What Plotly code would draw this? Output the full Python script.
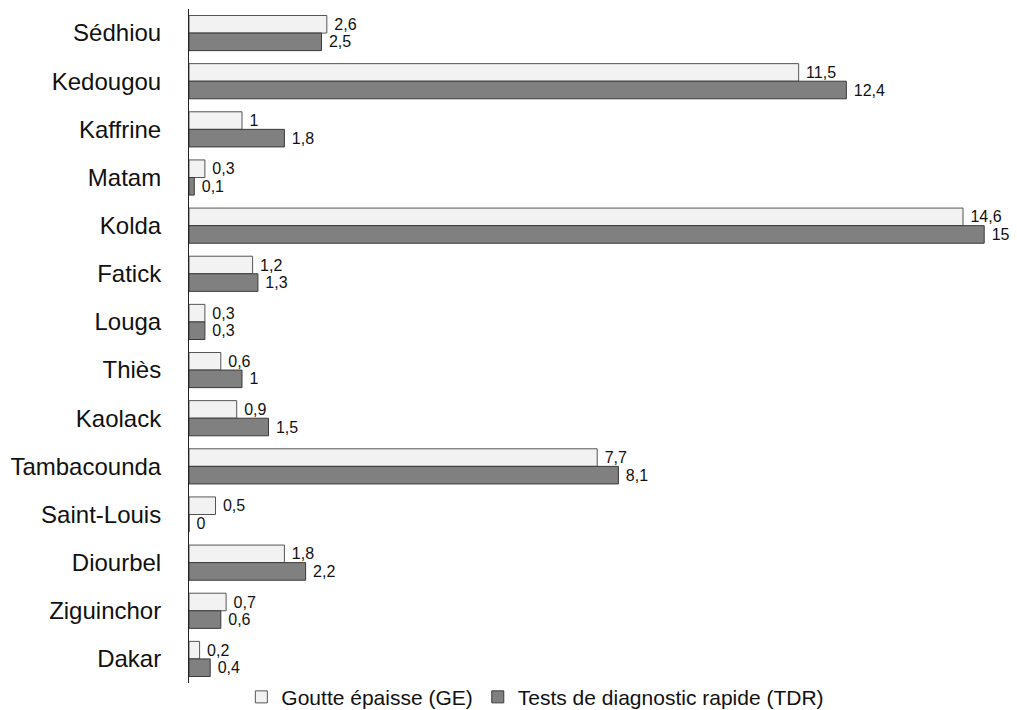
import plotly.graph_objects as go

regions = ["Sédhiou", "Kedougou", "Kaffrine", "Matam", "Kolda", "Fatick", "Louga",
           "Thiès", "Kaolack", "Tambacounda", "Saint-Louis", "Diourbel", "Ziguinchor", "Dakar"]
ge_values = [2.6, 11.5, 1, 0.3, 14.6, 1.2, 0.3, 0.6, 0.9, 7.7, 0.5, 1.8, 0.7, 0.2]
tdr_values = [2.5, 12.4, 1.8, 0.1, 15, 1.3, 0.3, 1, 1.5, 8.1, 0, 2.2, 0.6, 0.4]


def fr(v):
    # French decimal comma, with a small gap before the bar end
    return "\u00a0" + f"{v:g}".replace(".", ",")


FONT = "Liberation Sans, Arial, sans-serif"

fig = go.Figure()
fig.add_trace(go.Bar(
    y=regions, x=ge_values, orientation="h", name="Goutte épaisse (GE)",
    marker=dict(color="#f2f2f2", line=dict(color="#555555", width=1)),
    text=[fr(v) for v in ge_values], textposition="outside", constraintext="none",
    textfont=dict(family=FONT, size=16, color="#111111"), cliponaxis=False,
))
fig.add_trace(go.Bar(
    y=regions, x=tdr_values, orientation="h", name="Tests de diagnostic rapide (TDR)",
    marker=dict(color="#808080", line=dict(color="#3a3a3a", width=1)),
    text=[fr(v) for v in tdr_values], textposition="outside", constraintext="none",
    textfont=dict(family=FONT, size=16, color="#111111"), cliponaxis=False,
))

fig.update_layout(
    width=1017, height=710,
    margin=dict(l=189, r=10, t=9, b=27, autoexpand=False),
    paper_bgcolor="white", plot_bgcolor="white",
    barmode="group", bargap=0.27, bargroupgap=0,
    font=dict(family=FONT, color="#111111"),
    showlegend=True,
    legend=dict(orientation="h", x=0.064, xanchor="left",
                yref="container", y=0.018, yanchor="middle",
                font=dict(family=FONT, size=21), itemwidth=30, traceorder="normal",
                bgcolor="rgba(0,0,0,0)"),
    xaxis=dict(range=[0, 15.43], visible=False, showgrid=False, zeroline=False),
    yaxis=dict(autorange="reversed", showline=True, linecolor="#222222", linewidth=1,
               showgrid=False, ticks="", ticklabelstandoff=22,
               tickfont=dict(family=FONT, size=24, color="#111111")),
    uniformtext=dict(mode=False),
)

fig.write_html("out.html")
